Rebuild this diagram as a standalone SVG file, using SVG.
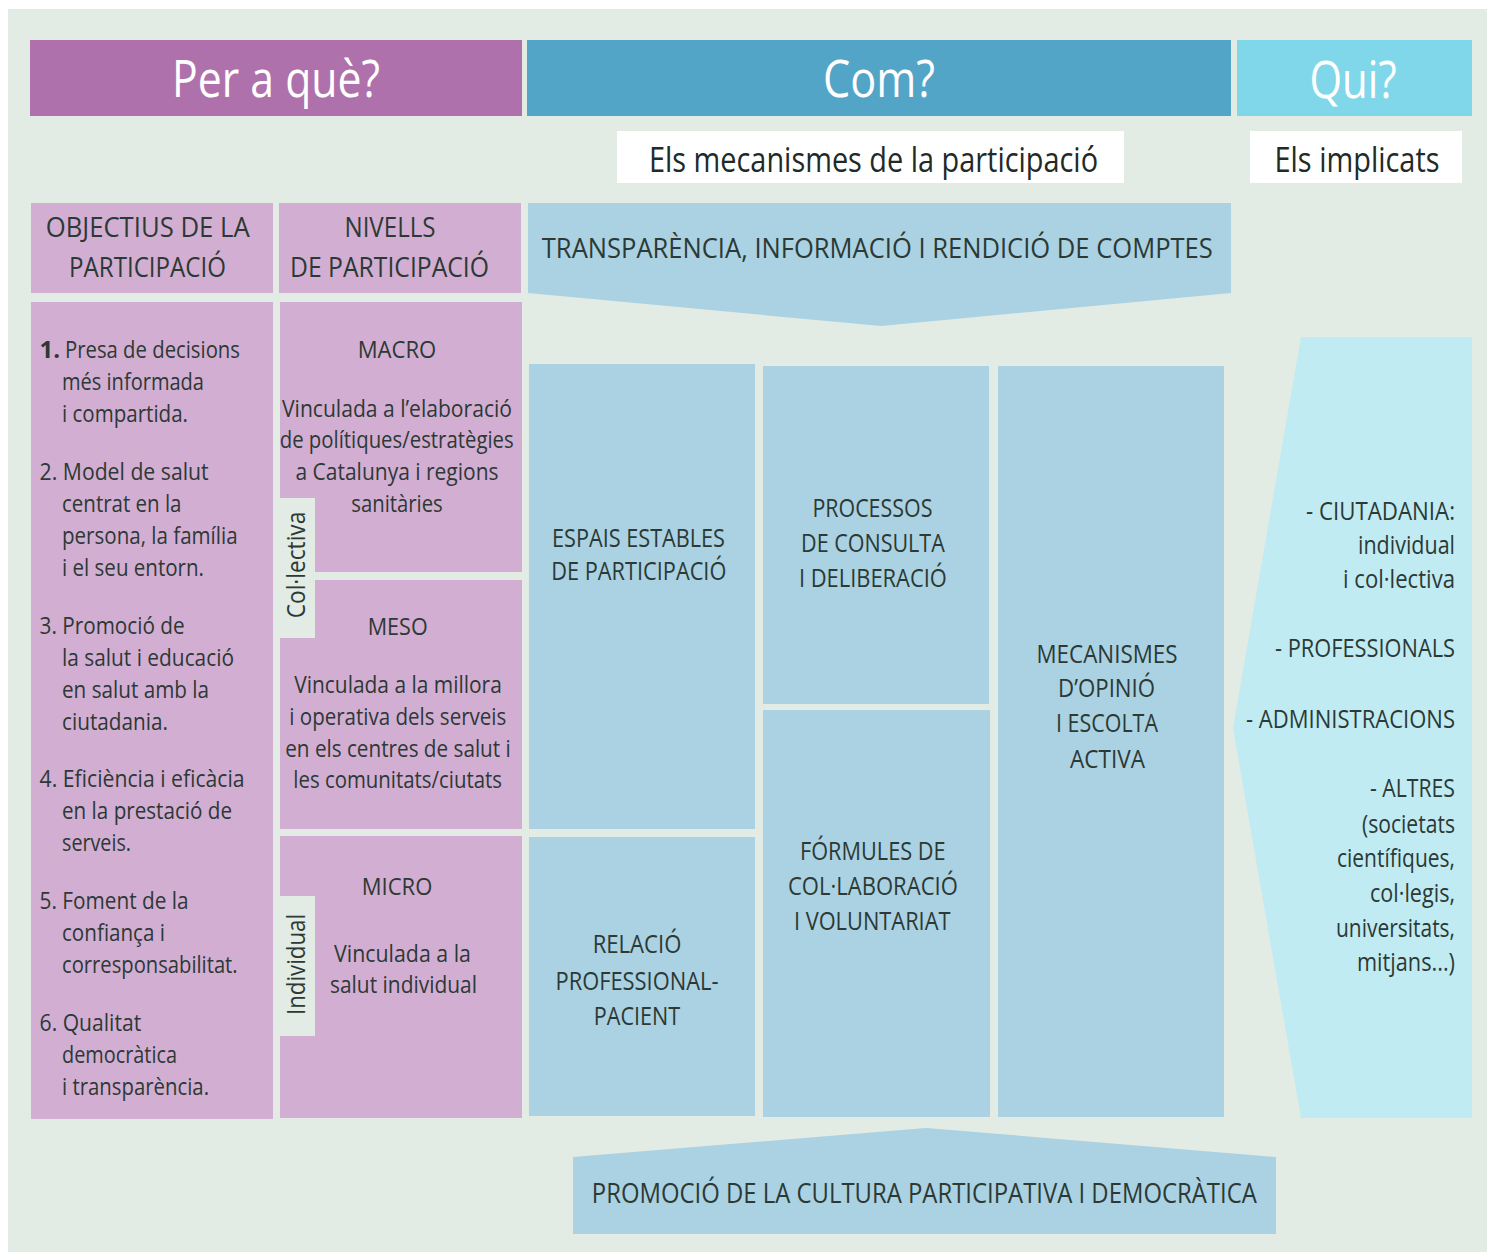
<svg xmlns="http://www.w3.org/2000/svg" width="1487" height="1252" viewBox="0 0 1487 1252">
<style>
text{font-family:"Open Sans","Noto Sans","Liberation Sans",sans-serif;fill:#2c3935;}
.h1{font-size:52px;fill:#ffffff;text-anchor:middle;}
.sub{font-size:35px;fill:#222a28;text-anchor:middle;}
.sec{font-size:27px;text-anchor:middle;}
.body{font-size:24px;}
.mid{text-anchor:middle;}
.lab{font-size:25px;text-anchor:middle;}
.qui{font-size:25px;text-anchor:end;}
.pink{fill:#d3aed3;}
.blue{fill:#aad2e2;}
.bg{fill:#e2ebe4;}
.white{fill:#ffffff;}
</style>
<rect x="0" y="0" width="1487" height="1252" fill="#ffffff"/>
<rect class="bg" x="8" y="9" width="1479" height="1243"/>

<g id="header-perque">
<rect x="30" y="40" width="492" height="76" fill="#af71ac"/>
<text class="h1" x="276" y="97" textLength="208" lengthAdjust="spacingAndGlyphs">Per a què?</text>
</g>
<g id="header-com">
<rect x="527" y="40" width="704" height="76" fill="#52a5c7"/>
<text class="h1" x="879" y="97" textLength="112" lengthAdjust="spacingAndGlyphs">Com?</text>
</g>
<g id="header-qui">
<rect x="1237" y="40" width="235" height="76" fill="#80d7ea"/>
<text class="h1" x="1353" y="98" textLength="87" lengthAdjust="spacingAndGlyphs">Qui?</text>
</g>

<g id="sub-mecanismes">
<rect class="white" x="617" y="131" width="507" height="52"/>
<text class="sub" x="873.5" y="172" textLength="449" lengthAdjust="spacingAndGlyphs">Els mecanismes de la participació</text>
</g>
<g id="sub-implicats">
<rect class="white" x="1250" y="131" width="212" height="52"/>
<text class="sub" x="1357" y="172" textLength="165" lengthAdjust="spacingAndGlyphs">Els implicats</text>
</g>

<g id="objectius-header">
<rect class="pink" x="31" y="203" width="242" height="90"/>
<text class="sec" x="147.7" y="237" textLength="204" lengthAdjust="spacingAndGlyphs">OBJECTIUS DE LA</text>
<text class="sec" x="147.5" y="277" textLength="157" lengthAdjust="spacingAndGlyphs">PARTICIPACIÓ</text>
</g>
<g id="nivells-header">
<rect class="pink" x="279" y="203" width="242" height="90"/>
<text class="sec" x="390" y="237" textLength="91" lengthAdjust="spacingAndGlyphs">NIVELLS</text>
<text class="sec" x="389.5" y="277" textLength="199" lengthAdjust="spacingAndGlyphs">DE PARTICIPACIÓ</text>
</g>

<g id="transparencia">
<polygon class="blue" points="528,203 1231,203 1231,293 881,326 528,293"/>
<text class="sec" style="font-size:28px" x="877.3" y="258" textLength="671" lengthAdjust="spacingAndGlyphs">TRANSPARÈNCIA, INFORMACIÓ I RENDICIÓ DE COMPTES</text>
</g>

<g id="objectius-list">
<rect class="pink" x="31" y="302" width="242" height="817"/>
<text class="body" x="39.6" y="358" font-weight="bold">1.</text>
<text class="body" x="65" y="358" textLength="175" lengthAdjust="spacingAndGlyphs">Presa de decisions</text>
<text class="body" x="62" y="390" textLength="142" lengthAdjust="spacingAndGlyphs">més informada</text>
<text class="body" x="62" y="422" textLength="126" lengthAdjust="spacingAndGlyphs">i compartida.</text>
<text class="body" x="39.6" y="480" textLength="169" lengthAdjust="spacingAndGlyphs">2. Model de salut</text>
<text class="body" x="62" y="512" textLength="119.5" lengthAdjust="spacingAndGlyphs">centrat en la</text>
<text class="body" x="62" y="544" textLength="175.6" lengthAdjust="spacingAndGlyphs">persona, la família</text>
<text class="body" x="62" y="576" textLength="142" lengthAdjust="spacingAndGlyphs">i el seu entorn.</text>
<text class="body" x="39.6" y="634" textLength="145" lengthAdjust="spacingAndGlyphs">3. Promoció de</text>
<text class="body" x="62" y="666" textLength="172" lengthAdjust="spacingAndGlyphs">la salut i educació</text>
<text class="body" x="62" y="698" textLength="147" lengthAdjust="spacingAndGlyphs">en salut amb la</text>
<text class="body" x="62" y="730" textLength="106" lengthAdjust="spacingAndGlyphs">ciutadania.</text>
<text class="body" x="39.6" y="787" textLength="205" lengthAdjust="spacingAndGlyphs">4. Eficiència i eficàcia</text>
<text class="body" x="62" y="819" textLength="170" lengthAdjust="spacingAndGlyphs">en la prestació de</text>
<text class="body" x="62" y="851" textLength="69" lengthAdjust="spacingAndGlyphs">serveis.</text>
<text class="body" x="39.6" y="909" textLength="149" lengthAdjust="spacingAndGlyphs">5. Foment de la</text>
<text class="body" x="62" y="941" textLength="103" lengthAdjust="spacingAndGlyphs">confiança i</text>
<text class="body" x="62" y="973" textLength="175.6" lengthAdjust="spacingAndGlyphs">corresponsabilitat.</text>
<text class="body" x="39.6" y="1031" textLength="101.6" lengthAdjust="spacingAndGlyphs">6. Qualitat</text>
<text class="body" x="62" y="1063" textLength="115" lengthAdjust="spacingAndGlyphs">democràtica</text>
<text class="body" x="62" y="1095" textLength="147" lengthAdjust="spacingAndGlyphs">i transparència.</text>
</g>

<g id="macro">
<rect class="pink" x="280" y="302" width="242" height="270"/>
<text class="body mid" x="397" y="358" textLength="78.6" lengthAdjust="spacingAndGlyphs">MACRO</text>
<text class="body mid" x="397" y="417" textLength="230" lengthAdjust="spacingAndGlyphs">Vinculada a l’elaboració</text>
<text class="body mid" x="396.7" y="448" textLength="234" lengthAdjust="spacingAndGlyphs">de polítiques/estratègies</text>
<text class="body mid" x="397" y="480" textLength="203" lengthAdjust="spacingAndGlyphs">a Catalunya i regions</text>
<text class="body mid" x="397" y="512" textLength="91.5" lengthAdjust="spacingAndGlyphs">sanitàries</text>
</g>
<g id="meso">
<rect class="pink" x="280" y="580" width="242" height="249"/>
<text class="body mid" x="397.7" y="635" textLength="60" lengthAdjust="spacingAndGlyphs">MESO</text>
<text class="body mid" x="398" y="693" textLength="207.6" lengthAdjust="spacingAndGlyphs">Vinculada a la millora</text>
<text class="body mid" x="397.8" y="725" textLength="217" lengthAdjust="spacingAndGlyphs">i operativa dels serveis</text>
<text class="body mid" x="398" y="757" textLength="225.6" lengthAdjust="spacingAndGlyphs">en els centres de salut i</text>
<text class="body mid" x="397.7" y="788" textLength="208.7" lengthAdjust="spacingAndGlyphs">les comunitats/ciutats</text>
</g>
<g id="micro">
<rect class="pink" x="280" y="836" width="242" height="282"/>
<text class="body mid" x="397" y="895" textLength="70.6" lengthAdjust="spacingAndGlyphs">MICRO</text>
<text class="body mid" x="402.5" y="962" textLength="137" lengthAdjust="spacingAndGlyphs">Vinculada a la</text>
<text class="body mid" x="403.5" y="993" textLength="147" lengthAdjust="spacingAndGlyphs">salut individual</text>
</g>
<g id="tag-collectiva">
<rect class="bg" x="280" y="498" width="35" height="140"/>
<text class="body mid" style="font-size:26px" x="305" y="565" transform="rotate(-90 305 565)" textLength="106.5" lengthAdjust="spacingAndGlyphs">Col·lectiva</text>
</g>
<g id="tag-individual">
<rect class="bg" x="280" y="896" width="35" height="140"/>
<text class="body mid" style="font-size:26px" x="305" y="964.5" transform="rotate(-90 305 964.5)" textLength="101" lengthAdjust="spacingAndGlyphs">Individual</text>
</g>

<g id="espais">
<rect class="blue" x="529" y="364" width="226" height="465"/>
<text class="lab" x="638.5" y="547" textLength="173" lengthAdjust="spacingAndGlyphs">ESPAIS ESTABLES</text>
<text class="lab" x="638.8" y="580" textLength="175" lengthAdjust="spacingAndGlyphs">DE PARTICIPACIÓ</text>
</g>
<g id="relacio">
<rect class="blue" x="529" y="837" width="226" height="279"/>
<text class="lab" x="637" y="953" textLength="88.7" lengthAdjust="spacingAndGlyphs">RELACIÓ</text>
<text class="lab" x="637" y="990" textLength="163" lengthAdjust="spacingAndGlyphs">PROFESSIONAL-</text>
<text class="lab" x="637" y="1025" textLength="86.3" lengthAdjust="spacingAndGlyphs">PACIENT</text>
</g>
<g id="processos">
<rect class="blue" x="763" y="366" width="226" height="338"/>
<text class="lab" x="872.4" y="517" textLength="120" lengthAdjust="spacingAndGlyphs">PROCESSOS</text>
<text class="lab" x="872.9" y="552" textLength="143.7" lengthAdjust="spacingAndGlyphs">DE CONSULTA</text>
<text class="lab" x="872.9" y="587" textLength="148" lengthAdjust="spacingAndGlyphs">I DELIBERACIÓ</text>
</g>
<g id="formules">
<rect class="blue" x="763" y="710" width="227" height="407"/>
<text class="lab" x="872.8" y="860" textLength="145.6" lengthAdjust="spacingAndGlyphs">FÓRMULES DE</text>
<text class="lab" x="872.9" y="895" textLength="170" lengthAdjust="spacingAndGlyphs">COL·LABORACIÓ</text>
<text class="lab" x="872.2" y="930" textLength="156.6" lengthAdjust="spacingAndGlyphs">I VOLUNTARIAT</text>
</g>
<g id="mecanismes">
<rect class="blue" x="998" y="366" width="226" height="751"/>
<text class="lab" x="1107" y="663" textLength="141" lengthAdjust="spacingAndGlyphs">MECANISMES</text>
<text class="lab" x="1106.6" y="697" textLength="97" lengthAdjust="spacingAndGlyphs">D’OPINIÓ</text>
<text class="lab" x="1107" y="732" textLength="102" lengthAdjust="spacingAndGlyphs">I ESCOLTA</text>
<text class="lab" x="1107.5" y="768" textLength="75" lengthAdjust="spacingAndGlyphs">ACTIVA</text>
</g>

<g id="promocio">
<polygon class="blue" points="573,1157 926,1128 1276,1157 1276,1234 573,1234"/>
<text class="sec" x="924.3" y="1203" textLength="665" lengthAdjust="spacingAndGlyphs">PROMOCIÓ DE LA CULTURA PARTICIPATIVA I DEMOCRÀTICA</text>
</g>

<g id="implicats">
<polygon points="1301,337 1472,337 1472,1118 1301,1118 1233,728" fill="#c0ebf3"/>
<text class="qui" x="1455" y="520" textLength="149" lengthAdjust="spacingAndGlyphs">- CIUTADANIA:</text>
<text class="qui" x="1455" y="554" textLength="97" lengthAdjust="spacingAndGlyphs">individual</text>
<text class="qui" x="1455" y="588" textLength="112" lengthAdjust="spacingAndGlyphs">i col·lectiva</text>
<text class="qui" x="1455" y="657" textLength="180" lengthAdjust="spacingAndGlyphs">- PROFESSIONALS</text>
<text class="qui" x="1455" y="728" textLength="209" lengthAdjust="spacingAndGlyphs">- ADMINISTRACIONS</text>
<text class="qui" x="1455" y="797" textLength="85" lengthAdjust="spacingAndGlyphs">- ALTRES</text>
<text class="qui" x="1455" y="833" textLength="93" lengthAdjust="spacingAndGlyphs">(societats</text>
<text class="qui" x="1455" y="867" textLength="118" lengthAdjust="spacingAndGlyphs">científiques,</text>
<text class="qui" x="1455" y="902" textLength="85" lengthAdjust="spacingAndGlyphs">col·legis,</text>
<text class="qui" x="1455" y="937" textLength="119" lengthAdjust="spacingAndGlyphs">universitats,</text>
<text class="qui" x="1455" y="971" textLength="98" lengthAdjust="spacingAndGlyphs">mitjans...)</text>
</g>

<g id="connectors"></g>
</svg>
